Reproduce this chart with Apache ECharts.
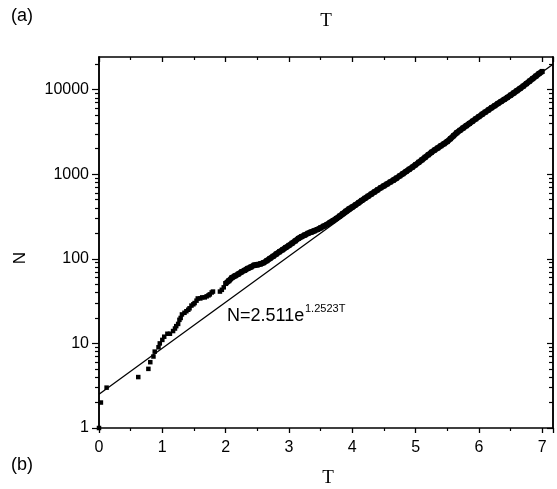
<!DOCTYPE html>
<html>
<head>
<meta charset="utf-8">
<title>N vs T</title>
<script src="https://cdn.jsdelivr.net/npm/echarts@6/dist/echarts.min.js"></script>
<style>
  html, body { margin: 0; padding: 0; background: #fff; }
  #chart { width: 557px; height: 489px; }
</style>
</head>
<body>
<div id="chart"></div>
<script>
// data
// sparse points at small T
const tLow = [0.00, 0.03, 0.12, 0.62, 0.78, 0.81, 0.86, 0.88, 0.94, 0.96, 1.00, 1.03, 1.08, 1.12,
  1.17, 1.20, 1.22, 1.25, 1.27, 1.29, 1.31, 1.35, 1.38, 1.41, 1.43, 1.46, 1.49, 1.51, 1.54, 1.56,
  1.60, 1.63, 1.67, 1.70, 1.73, 1.75, 1.78, 1.80, 1.91, 1.94, 1.97]
const nLow = [1, 2, 3, 4, 5, 6, 7, 8, 9, 10, 11, 12, 13, 13,
  14, 15, 16, 17, 19, 20, 22, 23, 24, 25, 26, 28, 29, 30, 32, 34,
  34, 35, 35, 36, 37, 38, 40, 41, 41, 43, 46]

// dense band, T from 2.00 to 7.00
const tBand = [2.00, 2.05, 2.10, 2.15, 2.20, 2.25, 2.30, 2.35, 2.40, 2.45, 2.50, 2.55, 2.60, 2.65,
  2.70, 2.75, 2.80, 2.85, 2.90, 2.95, 3.00, 3.05, 3.10, 3.15, 3.20, 3.25, 3.30, 3.35, 3.40, 3.45,
  3.50, 3.55, 3.60, 3.65, 3.70, 3.75, 3.80, 3.85, 3.90, 3.95, 4.00, 4.05, 4.10, 4.15, 4.20, 4.25,
  4.30, 4.35, 4.40, 4.45, 4.50, 4.55, 4.60, 4.65, 4.70, 4.75, 4.80, 4.85, 4.90, 4.95, 5.00, 5.05,
  5.10, 5.15, 5.20, 5.25, 5.30, 5.35, 5.40, 5.45, 5.50, 5.55, 5.60, 5.65, 5.70, 5.75, 5.80, 5.85,
  5.90, 5.95, 6.00, 6.05, 6.10, 6.15, 6.20, 6.25, 6.30, 6.35, 6.40, 6.45, 6.50, 6.55, 6.60, 6.65,
  6.70, 6.75, 6.80, 6.85, 6.90, 6.95, 7.00]
const nBand = [51, 55, 60, 63, 66, 70, 73, 77, 80, 84, 85, 87, 90, 95,
  101, 107, 114, 121, 128, 136, 144, 153, 163, 174, 183, 191, 200, 207, 214, 222,
  232, 243, 254, 269, 283, 300, 320, 342, 365, 389, 410, 434, 460, 490, 519, 550,
  582, 617, 653, 692, 728, 767, 809, 851, 899, 955, 1014, 1076, 1143, 1213, 1294, 1384,
  1479, 1585, 1698, 1816, 1928, 2042, 2168, 2291, 2432, 2630, 2851, 3090, 3296, 3516, 3741, 3981,
  4236, 4508, 4797, 5105, 5420, 5754, 6109, 6457, 6839, 7244, 7656, 8091, 8590, 9120, 9705, 10320,
  10990, 11750, 12590, 13490, 14450, 15490, 16410]

// fitted line N=2.511e^(1.2523T), end points
const fitT = [0, 7.17]
const fitN = [2.511, 19900]

// y ticks (log axis)
const yMajor = [1, 10, 100, 1000, 10000]
const yMinor = [2, 3, 4, 5, 6, 7, 8, 9, 20, 30, 40, 50, 60, 70, 80, 90,
  200, 300, 400, 500, 600, 700, 800, 900, 2000, 3000, 4000, 5000, 6000, 7000, 8000, 9000, 20000]

const xMin = 0
const xMax = 7.17
const yMin = 1
const yMax = 24300

const lowPoints = tLow.map((t, i) => [t, nLow[i]])
const bandPoints = tBand.map((t, i) => [t, nBand[i]])
const fitLine = fitT.map((t, i) => [t, fitN[i]])

const font = '"Liberation Sans", Arial, sans-serif'
const serif = '"Liberation Serif", "Times New Roman", serif'
const axisLine = { show: true, onZero: false, lineStyle: { color: '#000', width: 1.5 } }

// x axis, bottom with labels / top mirrored
const xBase = (pos, inside, labels) => ({
  type: 'value',
  position: pos,
  min: xMin,
  max: xMax,
  interval: 1,
  axisLine: axisLine,
  axisTick: { show: true, inside: inside, length: 5, lineStyle: { color: '#000', width: 1.3 } },
  minorTick: { show: true, splitNumber: 2, length: 3, lineStyle: { color: '#000', width: 1.2 } },
  axisLabel: {
    show: labels,
    margin: 12,
    color: '#000',
    fontFamily: font,
    fontSize: 16,
    formatter: (v) => (v > 7 ? '' : String(v)),
  },
  splitLine: { show: false },
  minorSplitLine: { show: false },
})

// y log axis, major or minor ticks
const yBase = (pos, inside, vals, len, labels) => ({
  type: 'log',
  logBase: 10,
  position: pos,
  min: yMin,
  max: yMax,
  axisLine: axisLine,
  axisTick: { show: true, inside: inside, length: len, customValues: vals,
    lineStyle: { color: '#000', width: 1.2 } },
  axisLabel: {
    show: labels,
    customValues: yMajor,
    margin: 10,
    color: '#000',
    fontFamily: font,
    fontSize: 16,
    formatter: (v) => String(Math.round(v)),
  },
  splitLine: { show: false },
})

const chart = echarts.init(document.getElementById('chart'))

chart.setOption({
  animation: false,
  backgroundColor: '#fff',
  grid: { left: 99, right: 4, top: 57, bottom: 61, containLabel: false },
  xAxis: [
    xBase('bottom', false, true),
    xBase('top', true, false),
  ],
  yAxis: [
    yBase('left', false, yMajor, 7, true),
    yBase('left', false, yMinor, 4, false),
    yBase('right', true, yMajor, 6, false),
    yBase('right', true, yMinor, 4, false),
  ],
  series: [
    {
      type: 'line',
      data: fitLine,
      xAxisIndex: 0,
      yAxisIndex: 0,
      symbol: 'none',
      lineStyle: { color: '#000', width: 1.3 },
      z: 2,
    },
    {
      // band of dense points, joined so it reads as one solid stroke
      type: 'line',
      data: bandPoints,
      xAxisIndex: 0,
      yAxisIndex: 0,
      symbol: 'rect',
      symbolSize: 5,
      showSymbol: true,
      itemStyle: { color: '#000', opacity: 1 },
      lineStyle: { color: '#000', width: 6 },
      z: 3,
    },
    {
      type: 'scatter',
      data: lowPoints,
      xAxisIndex: 0,
      yAxisIndex: 0,
      symbol: 'rect',
      symbolSize: 4.5,
      itemStyle: { color: '#000', opacity: 1 },
      z: 3,
    },
  ],
  graphic: [
    { type: 'text', left: 11, top: 7, style: { text: '(a)', font: '18px ' + font, fill: '#000' } },
    { type: 'text', x: 326, y: 21, style: { text: 'T', font: '19px ' + serif, fill: '#000',
      align: 'center', verticalAlign: 'middle' } },
    { type: 'text', left: 11, top: 456, style: { text: '(b)', font: '18px ' + font, fill: '#000' } },
    { type: 'text', x: 328, y: 478, style: { text: 'T', font: '19px ' + serif, fill: '#000',
      align: 'center', verticalAlign: 'middle' } },
    { type: 'text', x: 20, y: 258, rotation: Math.PI / 2, style: { text: 'N', font: '17px ' + font,
      fill: '#000', align: 'center', verticalAlign: 'middle' } },
    { type: 'text', x: 227, y: 316, style: { text: 'N=2.511e', font: '18px ' + font, fill: '#000',
      align: 'left', verticalAlign: 'middle' } },
    { type: 'text', x: 305, y: 309, style: { text: '1.2523T', font: '11px ' + font, fill: '#000',
      align: 'left', verticalAlign: 'middle' } },
  ],
})
</script>
</body>
</html>
